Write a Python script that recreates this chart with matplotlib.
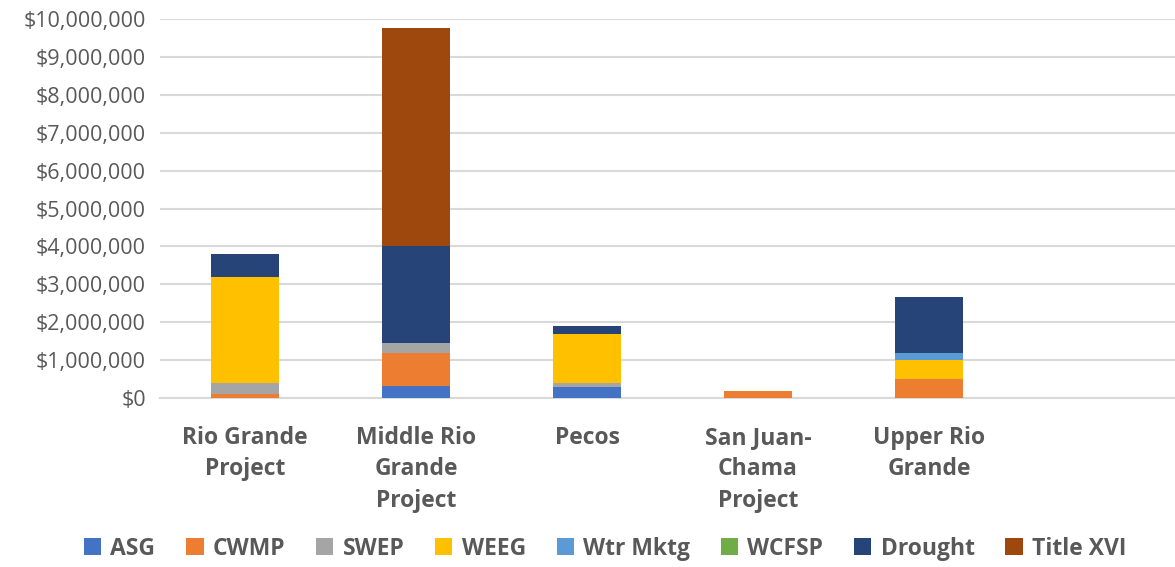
import numpy as np
import matplotlib.pyplot as plt
from matplotlib.ticker import FuncFormatter

plt.rcParams['font.family'] = ['Open Sans', 'DejaVu Sans']

# data, dollars
cats = ['Rio Grande\nProject', 'Middle Rio\nGrande\nProject', 'Pecos',
        'San Juan-\nChama\nProject', 'Upper Rio\nGrande', '']
series = ['ASG', 'CWMP', 'SWEP', 'WEEG', 'Wtr Mktg', 'WCFSP', 'Drought', 'Title XVI']
colors = ['#4472C4', '#ED7D31', '#A5A5A5', '#FFC000', '#5B9BD5', '#70AD47', '#264478', '#9E480E']

asg      = [0,       330000,  280000,  0,      0,      0]
cwmp     = [100000,  860000,  0,       190000, 490000, 0]
swep     = [300000,  270000,  120000,  0,      0,      0]
weeg     = [2790000, 0,       1300000, 0,      510000, 0]
wtr_mktg = [0,       0,       0,       0,      200000, 0]
wcfsp    = [0,       0,       0,       0,      0,      0]
drought  = [610000,  2540000, 200000,  0,      1460000, 0]
title16  = [0,       5760000, 0,       0,      0,      0]
values = [asg, cwmp, swep, weeg, wtr_mktg, wcfsp, drought, title16]

fig = plt.figure(figsize=(11.75, 5.67), dpi=100)
ax = fig.add_axes([0.136, 0.298, 0.864, 0.6685])

x = np.arange(len(cats))
bottom = np.zeros(len(cats))
for name, vals, c in zip(series, values, colors):
    vals = np.array(vals, dtype=float)
    ax.bar(x, vals, 0.4, bottom=bottom, color=c, label=name, zorder=3)
    bottom += vals

ax.set_ylim(0, 10000000)
ax.set_yticks(np.arange(0, 10000001, 1000000))
ax.yaxis.set_major_formatter(FuncFormatter(lambda v, p: '${:,.0f}'.format(v)))
ax.set_xlim(-0.5, 5.44)
ax.set_xticks(x)
ax.set_xticklabels(cats, fontsize=16.5, fontweight='bold', color='#595959', linespacing=1.42)
ax.tick_params(axis='x', length=0, pad=20)
ax.tick_params(axis='y', length=0, pad=10, labelsize=15.5, labelcolor='#595959')
ax.grid(axis='y', color='#d9d9d9', lw=1.5, zorder=0)
for s in ['top', 'right', 'left']:
    ax.spines[s].set_visible(False)
ax.spines['bottom'].set_color('#d9d9d9')
ax.spines['bottom'].set_linewidth(1.5)

fig.legend(loc='lower center', ncol=8, frameon=False, bbox_to_anchor=(0.515, -0.025),
           prop={'size': 16.5, 'weight': 'bold'}, labelcolor='#595959',
           handlelength=0.75, handleheight=0.75, handletextpad=0.4, columnspacing=1.35)

fig.savefig('out.png', dpi=100)
